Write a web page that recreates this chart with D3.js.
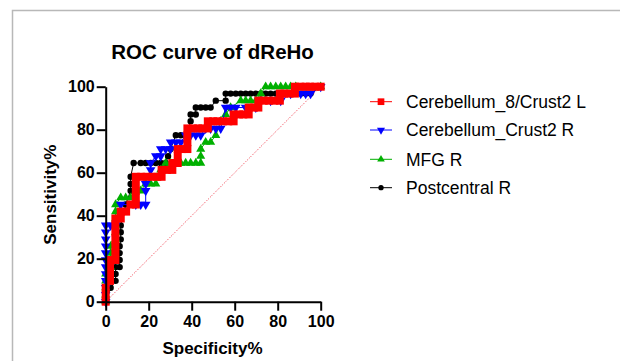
<!DOCTYPE html>
<html>
<head>
<meta charset="utf-8">
<script src="https://d3js.org/d3.v7.min.js"></script>
<style>
  body { margin: 0; background: #fff; }
  svg { display: block; font-family: "Liberation Sans", Arial, sans-serif; }
</style>
</head>
<body>
<div id="chart"></div>
<script>
// ROC points: [100 - specificity%, sensitivity%]
const cerebellum8 = [
  [0,0],[0,3.2],[0,6.5],[2,9.7],[2,12.9],[2,16.1],[2,19.4],[4.5,19.4],[4.5,22.6],[4.5,25.8],
  [4.5,29],[4.5,32.3],[4.5,35.5],[4.5,38.7],[7,38.7],[7,41.9],[9.5,41.9],[11.5,45.2],[14,45.2],
  [14,48.4],[14,51.6],[14,54.8],[14,58.1],[16.5,58.1],[19,58.1],[21.5,58.1],[24,58.1],[26,58.1],
  [26,61.3],[28.5,61.3],[31,61.3],[31,64.5],[33.5,64.5],[33.5,67.7],[33.5,71],[35.5,71],[38,71],
  [38,74.2],[38,77.4],[38,80.6],[40.5,80.6],[43,80.6],[45,80.6],[47.5,80.6],[47.5,83.9],[50,83.9],
  [52,83.9],[54.5,83.9],[57,83.9],[59.5,83.9],[59.5,87.1],[62,87.1],[64,87.1],[66.5,87.1],
  [66.5,90.3],[69,90.3],[71,90.3],[71,93.5],[73.5,93.5],[76,93.5],[78.5,93.5],[81,93.5],
  [81,96.8],[83,96.8],[85.5,96.8],[88,96.8],[88,100],[90.5,100],[93,100],[95,100],[97.5,100],[100,100]
];
const crust2R = [
  [0,0],[0,3.2],[0,6.5],[0,9.7],[0,12.9],[0,16.1],[0,19.4],[0,22.6],[0,25.8],[0,29],[0,32.3],
  [0,35.5],[2.3,35.5],[4.6,35.5],[7,45.2],[14,45.2],[16.3,45.2],[18.6,45.2],[18.6,51.6],[18.6,54.8],
  [20.9,61.3],[20.9,64.5],[23.3,67.7],[25.6,67.7],[25.6,71],[27.9,71],[30.2,71],[30.2,74.2],
  [32.6,74.2],[34.9,74.2],[37.2,77.4],[39.5,77.4],[41.9,77.4],[44.2,77.4],[46.5,80.6],[48.8,80.6],
  [51.2,80.6],[53.5,80.6],[55.8,90.3],[58.1,90.3],[60.5,90.3],[65.1,90.3],[69.8,90.3],[72.1,93.5],
  [76.7,93.5],[81.4,93.5],[86,96.8],[90.7,96.8],[93,96.8],[95.3,96.8],[100,100]
];
const mfgR = [
  [0,0],[0,3.2],[0,6.5],[0,9.7],[0,12.9],[2.3,16.1],[2.3,19.4],[2.3,22.6],[2.3,25.8],[4.6,29],
  [4.6,32.3],[4.6,35.5],[4.6,38.7],[4.6,41.9],[4.6,45.2],[7,48.4],[9.3,48.4],[11.6,48.4],[14,51.6],
  [16.3,51.6],[18.6,54.8],[20.9,54.8],[23.3,54.8],[25.6,61.3],[27.9,64.5],[30.2,64.5],[32.6,64.5],
  [34.9,64.5],[37.2,64.5],[39.5,64.5],[41.9,64.5],[44.2,64.5],[44.2,67.7],[44.2,71],[46.5,74.2],
  [48.8,74.2],[51.2,77.4],[53.5,83.9],[55.8,87.1],[58.1,90.3],[62.8,93.5],[65.1,93.5],[67.4,93.5],
  [69.8,93.5],[72.1,96.8],[74.4,100],[76.7,100],[79.1,100],[81.4,100],[83.7,100],[86,100],
  [88.4,100],[100,100]
];
const postcentralR = [
  [0,0],[2.3,6.5],[4.6,9.7],[4.6,12.9],[4.6,16.1],[6.5,16.1],[6.5,19.4],[6.5,22.6],[6.5,25.8],
  [7,29],[7,32.3],[7,35.5],[9.3,45.2],[11.6,51.6],[11.6,54.8],[11.6,58.1],[13,64.5],[16.3,64.5],
  [18.6,64.5],[20.9,64.5],[23.3,64.5],[25.6,64.5],[27.9,64.5],[29,67.7],[30.2,71],[32.6,77.4],
  [34.9,77.4],[37.2,77.4],[39.5,83.9],[39.5,87.1],[41.9,87.1],[41.9,90.3],[44.2,90.3],[46.5,90.3],
  [48.8,90.3],[51.2,93.5],[55.8,93.5],[55.8,96.8],[58.1,96.8],[60.5,96.8],[62.8,96.8],[65.1,96.8],
  [67.4,96.8],[69.8,96.8],[72.1,96.8],[74.4,96.8],[76.7,96.8],[79.1,96.8],[81.4,96.8],[83.7,96.8],
  [86,96.8],[88.4,96.8],[90.7,96.8],[93,96.8],[95.3,96.8],[100,100]
];
const seriesNames = ['Cerebellum_8/Crust2 L', 'Cerebellum_Crust2 R', 'MFG R', 'Postcentral R'];
const tickValues = [0, 20, 40, 60, 80, 100];

const series = [
  { name: seriesNames[0], data: cerebellum8, color: '#ff0000', shape: d3.symbolSquare, size: 64 },
  { name: seriesNames[1], data: crust2R, color: '#0000ff', shape: 'down', size: 40 },
  { name: seriesNames[2], data: mfgR, color: '#00b000', shape: d3.symbolTriangle, size: 36 },
  { name: seriesNames[3], data: postcentralR, color: '#000000', shape: d3.symbolCircle, size: 32 }
];

const W = 620, H = 361;
const svg = d3.select('#chart').append('svg').attr('width', W).attr('height', H);

// frame
svg.append('path')
  .attr('d', 'M12.5,' + H + 'V10.5H' + W)
  .attr('fill', 'none').attr('stroke', '#b8b8b8').attr('stroke-width', 1.5);

const x = d3.scaleLinear().domain([0, 100]).range([105.7, 320.7]);
const y = d3.scaleLinear().domain([0, 100]).range([301.7, 86.7]);

function symbolPath(shape, size) {
  if (shape === 'down') return d3.symbol(d3.symbolTriangle, size)();
  return d3.symbol(shape, size)();
}

// chance line
svg.append('line')
  .attr('x1', x(0)).attr('y1', y(0)).attr('x2', x(100)).attr('y2', y(100))
  .attr('stroke', '#f03a4a').attr('stroke-width', 1).attr('stroke-dasharray', '1,1.5');

const line = d3.line().x(d => x(d[0])).y(d => y(d[1]));

// draw in reverse so the first series sits on top
series.slice().reverse().forEach(s => {
  const g = svg.append('g');
  g.append('path').datum(s.data)
    .attr('d', line).attr('fill', 'none')
    .attr('stroke', s.color).attr('stroke-width', 1);
  g.selectAll('path.pt').data(s.data).enter().append('path')
    .attr('class', 'pt')
    .attr('d', symbolPath(s.shape, s.size))
    .attr('transform', d => `translate(${x(d[0])},${y(d[1])})` + (s.shape === 'down' ? ' rotate(180)' : ''))
    .attr('fill', s.color);
});

// axes
const xAxis = svg.append('g')
  .attr('transform', `translate(0,${y(0)})`)
  .call(d3.axisBottom(x).tickValues(tickValues).tickSize(9).tickSizeOuter(0).tickPadding(5));
const yAxis = svg.append('g')
  .attr('transform', `translate(${x(0)},0)`)
  .call(d3.axisLeft(y).tickValues(tickValues).tickSize(9).tickSizeOuter(0).tickPadding(2));
[xAxis, yAxis].forEach(a => {
  a.selectAll('path, line').attr('stroke', '#000').attr('stroke-width', 2);
  a.selectAll('text').attr('fill', '#000')
    .style('font-size', '16px').style('font-weight', 'bold')
    .style('font-family', '"Liberation Sans", Arial, sans-serif');
});

// titles
svg.append('text').attr('x', 212.5).attr('y', 58.5).attr('text-anchor', 'middle')
  .style('font-size', '20.5px').style('font-weight', 'bold').text('ROC curve of dReHo');
svg.append('text').attr('x', 212.5).attr('y', 354).attr('text-anchor', 'middle')
  .style('font-size', '17px').style('font-weight', 'bold').text('Specificity%');
svg.append('text').attr('transform', 'translate(56,194.7) rotate(-90)').attr('text-anchor', 'middle')
  .style('font-size', '17px').style('font-weight', 'bold').text('Sensitivity%');

// legend
const legendY = [101.7, 130, 159.3, 187.7];
series.forEach((s, i) => {
  const g = svg.append('g').attr('transform', `translate(0,${legendY[i]})`);
  g.append('line').attr('x1', 370).attr('x2', 392).attr('y1', 0).attr('y2', 0)
    .attr('stroke', s.color).attr('stroke-width', 1);
  g.append('path').attr('d', symbolPath(s.shape, s.size * 0.7))
    .attr('transform', 'translate(381,0)' + (s.shape === 'down' ? ' rotate(180)' : ''))
    .attr('fill', s.color);
  g.append('text').attr('x', 406).attr('y', 6.3)
    .style('font-size', '17.5px').text(s.name);
});
</script>
</body>
</html>
